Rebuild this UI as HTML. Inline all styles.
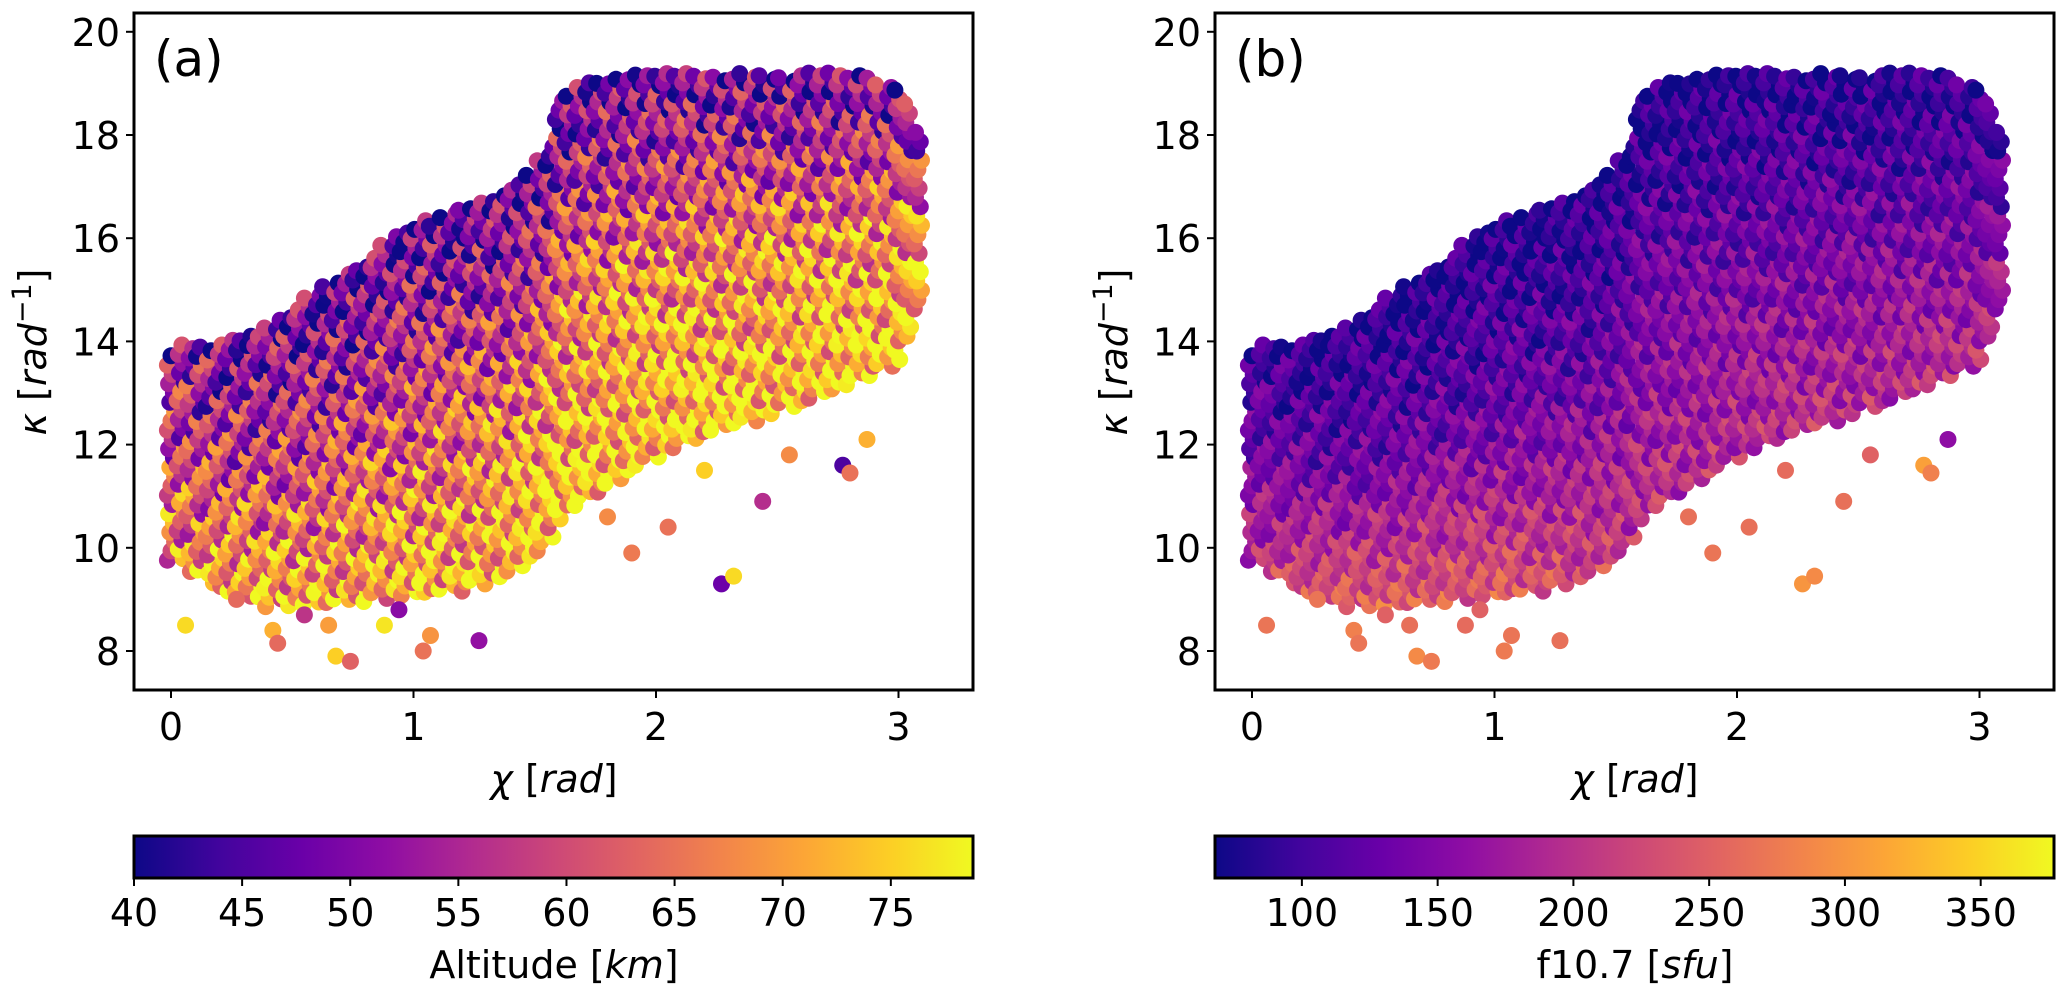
<!DOCTYPE html>
<html><head><meta charset="utf-8">
<style>
html,body{margin:0;padding:0;background:#fff;}
svg{display:block;font-family:"DejaVu Sans","Liberation Sans",sans-serif;}
</style></head>
<body>
<svg id="fig" width="2067" height="994" viewBox="0 0 2067 994" xmlns="http://www.w3.org/2000/svg">
<defs>
<linearGradient id="plasma" x1="0" x2="1" y1="0" y2="0">
<stop offset="0" stop-color="#0d0887"/><stop offset="0.1" stop-color="#41049d"/><stop offset="0.2" stop-color="#6a00a8"/><stop offset="0.3" stop-color="#8f0da4"/><stop offset="0.4" stop-color="#b12a90"/><stop offset="0.5" stop-color="#cc4778"/><stop offset="0.6" stop-color="#e16462"/><stop offset="0.7" stop-color="#f2844b"/><stop offset="0.8" stop-color="#fca636"/><stop offset="0.9" stop-color="#fcce25"/><stop offset="1" stop-color="#f0f921"/>
</linearGradient>
<clipPath id="clipA"><rect x="134" y="13" width="839" height="677"/></clipPath>
<clipPath id="clipB"><rect x="1215" y="13" width="839" height="677"/></clipPath>
</defs>
</svg>
<script>
// ---- data ----
const chiBins   = [0.0, 0.2, 0.4, 0.6, 0.8, 1.0, 1.2, 1.4, 1.55, 1.6, 1.8, 2.0, 2.2, 2.4, 2.6, 2.8, 3.0, 3.1];
const kappaLow  = [9.8, 9.2, 8.9, 8.9, 9.0, 9.1, 9.2, 9.5, 10.0, 10.6, 11.2, 11.8, 12.2, 12.5, 12.8, 13.2, 13.6, 14.8];
const kappaHigh = [13.9,14.0,14.3,15.0,15.6,16.3,16.6,17.0, 17.6, 18.8, 19.2, 19.2, 19.2, 19.2, 19.2, 19.2, 19.0, 18.0];
// altitude (km) at bottom / middle / top of cloud, panel a
const altBottom = [68, 71, 72, 72, 72, 72, 73, 74, 75, 75, 75, 75, 75, 75, 75, 75, 75, 75];
const altMiddle = [60, 59, 59, 59, 60, 61, 62, 63, 65, 65, 66, 67, 67, 67, 67, 67, 67, 67];
const altTop    = [51, 49, 48, 47, 47, 47, 47, 47, 47, 47, 48, 48, 48, 48, 48, 48, 49, 50];
// f10.7 (sfu) at bottom / middle / top of cloud, panel b
const fBottom   = [200, 235, 250, 250, 250, 245, 240, 225, 210, 205, 200, 200, 200, 200, 200, 200, 200, 195];
const fMiddle   = [140, 135, 130, 130, 130, 130, 130, 135, 140, 140, 140, 140, 140, 140, 140, 140, 140, 140];
const fTop      = [92, 85, 82, 80, 80, 80, 80, 80, 80, 80, 80, 82, 82, 82, 82, 85, 88, 100];
// outlier points
const outChi   = [0.06,0.27,0.42,0.44,0.55,0.65,0.68,0.74,0.88,0.94,1.04,1.07,1.27,1.80,1.90,2.05,2.27,2.32,2.44,2.20,2.55,2.87,2.77,2.80];
const outKappa = [8.5, 9.0, 8.4, 8.15,8.7, 8.5, 7.9, 7.8, 8.5, 8.8, 8.0, 8.3, 8.2, 10.6,9.9, 10.4,9.3, 9.45,10.9,11.5,11.8,12.1,11.6,11.45];
const outAlt   = [76, 64, 72, 64, 57, 70, 75, 63, 77, 51, 65, 69, 52, 68, 66, 65, 48, 76, 56, 75, 68, 72, 45, 65];
const outF     = [270,270,280,270,250,265,290,275,260,250,275,270,265,265,270,265,300,290,265,260,250,160,310,280];
const xTicks = [0, 1, 2, 3];
const yTicks = [8, 10, 12, 14, 16, 18, 20];
const altTicks = [40, 45, 50, 55, 60, 65, 70, 75];
const fTicks = [100, 150, 200, 250, 300, 350];

// ---- helpers ----
const NS = "http://www.w3.org/2000/svg";
const svg = document.getElementById('fig');
const plasma = [[13,8,135],[65,4,157],[106,0,168],[143,13,164],[177,42,144],[204,71,120],[225,100,98],[242,132,75],[252,166,54],[252,206,37],[240,249,33]];
function cmap(t){t=Math.max(0,Math.min(1,t));const s=t*10,i=Math.min(9,Math.floor(s)),f=s-i;const a=plasma[i],b=plasma[i+1];return `rgb(${Math.round(a[0]+(b[0]-a[0])*f)},${Math.round(a[1]+(b[1]-a[1])*f)},${Math.round(a[2]+(b[2]-a[2])*f)})`;}
function mk(tag, attrs, parent){const e=document.createElementNS(NS,tag);for(const k in attrs)e.setAttribute(k,attrs[k]);(parent||svg).appendChild(e);return e;}
function interp(xs, ys, x){if(x<=xs[0])return ys[0];for(let i=1;i<xs.length;i++){if(x<=xs[i]){const f=(x-xs[i-1])/(xs[i]-xs[i-1]);return ys[i-1]+(ys[i]-ys[i-1])*f;}}return ys[ys.length-1];}

function panel(cfg){
  const xS = v => cfg.x0 + v*242.5;
  const yS = v => 651 - (v-8)*51.6;
  const g = mk('g',{'clip-path':`url(#${cfg.clip})`});
  
  
  const vmin=cfg.vmin, vmax=cfg.vmax;
  let col=0;
  for(let c=0; c<=3.1+1e-9; c+=0.04){
    const lo=interp(chiBins,kappaLow,c), hi=interp(chiBins,kappaHigh,c);
    const vb=interp(chiBins,cfg.bot,c), vm=interp(chiBins,cfg.mid,c), vt=interp(chiBins,cfg.top,c);
    let row=0;
    for(let k=lo+(col%2)*0.09; k<=hi; k+=0.18){
      const t=(k-lo)/(hi-lo);
      let v = t<0.5 ? vb+(vm-vb)*(t/0.5) : vm+(vt-vm)*((t-0.5)/0.5);
      v += (((col*7+row*13)%11)-5)*cfg.jit;
      const dx = (((col*5+row*3)%7)-3)*0.005;
      const dk = (((col*3+row*5)%5)-2)*0.02;
      const dot = mk('circle',{cx:xS(c+dx).toFixed(1),cy:yS(k+dk).toFixed(1),r:8.5,fill:cmap((v-vmin)/(vmax-vmin))},g);
      
      
      row++;
    }
    col++;
  }
  for(let i=0;i<outChi.length;i++){
    const v=cfg.out[i];
    const dot = mk('circle',{cx:xS(outChi[i]),cy:yS(outKappa[i]),r:8.5,fill:cmap((v-vmin)/(vmax-vmin))},g);
    
    
  }
  const fr = mk('rect',{x:cfg.fx,y:13,width:839,height:677,fill:'none',stroke:'#000','stroke-width':3});
  
  
  xTicks.forEach(t=>{
    mk('line',{x1:xS(t),x2:xS(t),y1:690,y2:698,stroke:'#000','stroke-width':2});
    const tx = mk('text',{x:xS(t),y:740,'font-size':38,'text-anchor':'middle'}); tx.textContent=t;
    
    
  });
  yTicks.forEach(t=>{
    mk('line',{x1:cfg.fx-8,x2:cfg.fx,y1:yS(t),y2:yS(t),stroke:'#000','stroke-width':2});
    const tx = mk('text',{x:cfg.fx-14,y:yS(t)+14,'font-size':38,'text-anchor':'end'}); tx.textContent=t;
    
    
  });
  const xl = mk('text',{x:cfg.fx+420,y:792,'font-size':38,'text-anchor':'middle'});
  xl.innerHTML = '<tspan font-style="italic">χ</tspan> [<tspan font-style="italic">rad</tspan>]';
  
  
  const yl = mk('text',{x:0,y:0,'font-size':38,'text-anchor':'middle',transform:`translate(${cfg.fx-88},352) rotate(-90)`});
  yl.innerHTML = '<tspan font-style="italic">κ</tspan> [<tspan font-style="italic">rad</tspan><tspan font-size="27" dy="-15">−1</tspan><tspan dy="15">]</tspan>';
  
  
  const pl = mk('text',{x:cfg.fx+20,y:76,'font-size':50}); pl.textContent=cfg.tag;
  
  
  const cb = mk('rect',{x:cfg.fx,y:836,width:839,height:42,fill:'url(#plasma)',stroke:'#000','stroke-width':3});
  
  
  const cS = v => cfg.fx + (v-vmin)/(vmax-vmin)*839;
  cfg.ticks.forEach(t=>{
    mk('line',{x1:cS(t),x2:cS(t),y1:878,y2:886,stroke:'#000','stroke-width':2});
    const tx = mk('text',{x:cS(t),y:926,'font-size':38,'text-anchor':'middle'}); tx.textContent=t;
    
    
  });
  const cl = mk('text',{x:cfg.fx+420,y:978,'font-size':38,'text-anchor':'middle'});
  cl.innerHTML = cfg.cbl;
  
  
}
panel({name:'panel-a',tag:'(a)',x0:171,fx:134,clip:'clipA',vmin:40,vmax:78.8,bot:altBottom,mid:altMiddle,top:altTop,out:outAlt,jit:2.6,ticks:altTicks,cbl:'Altitude [<tspan font-style="italic">km</tspan>]'});
panel({name:'panel-b',tag:'(b)',x0:1252,fx:1215,clip:'clipB',vmin:68,vmax:377,bot:fBottom,mid:fMiddle,top:fTop,out:outF,jit:9,ticks:fTicks,cbl:'f10.7 [<tspan font-style="italic">sfu</tspan>]'});
</script>
</body></html>
